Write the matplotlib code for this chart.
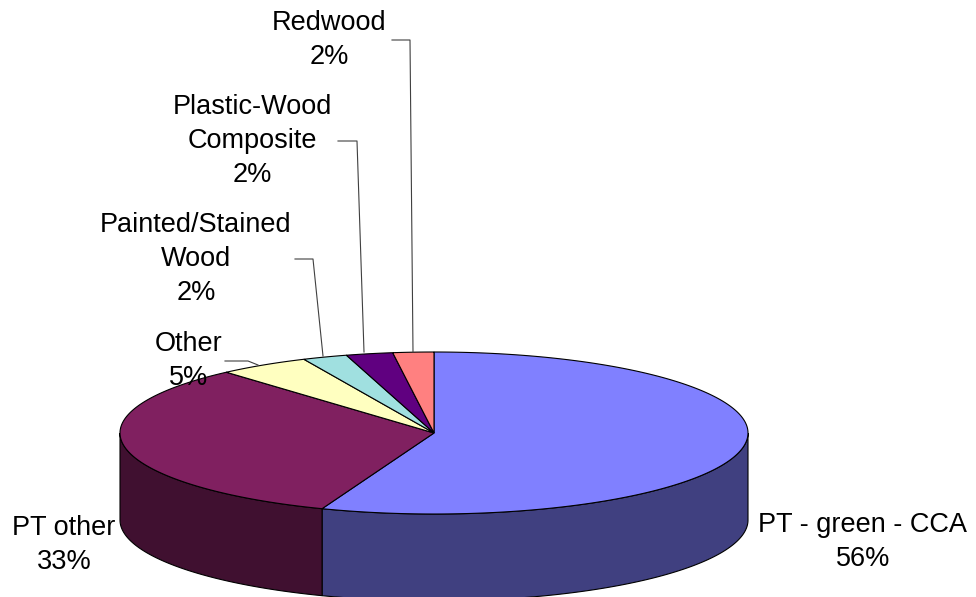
import numpy as np
import matplotlib.pyplot as plt
from matplotlib.patches import Polygon

# Decking material shares (%)
materials = ["PT - green - CCA", "PT other", "Other", "Painted/Stained\nWood",
             "Plastic-Wood\nComposite", "Redwood"]
shares = [55.8, 32.7, 4.7, 2.3, 2.4, 2.1]

top_colors = ["#8080FF", "#802060", "#FFFFC0", "#A0E0E0", "#600080", "#FF8080"]
side_colors = ["#404080", "#401030", "#808060", "#507070", "#300040", "#804040"]

# pie geometry in pixel space (y grows downward)
cx, cy = 434, 433
rx, ry = 314, 81
depth = 87

# label anchors and leader lines (pixels)
label_pos = [(863, 542), (64, 545), (189, 361), (196, 259), (252, 141), (329, 40)]
leaders = {
    2: [(225, 361), (248, 361), (258, 365)],
    3: [(295, 259), (313, 259), (323, 356)],
    4: [(338, 141), (357, 141), (364, 352)],
    5: [(392, 40), (410, 40), (413, 352)],
}


def rim(t):
    # t in degrees, clockwise from 12 o'clock
    r = np.radians(t)
    return cx + rx * np.sin(r), cy - ry * np.cos(r)


fig = plt.figure(figsize=(9.76, 5.97), dpi=100)
ax = fig.add_axes([0, 0, 1, 1])
ax.set_xlim(0, 976)
ax.set_ylim(597, 0)
ax.axis("off")

fracs = np.array(shares) / sum(shares)
bounds = np.concatenate([[0], np.cumsum(fracs) * 360])

# front wall of the cylinder (visible between 90 and 270 degrees)
for i in range(len(shares)):
    a0, a1 = max(bounds[i], 90), min(bounds[i + 1], 270)
    if a1 <= a0:
        continue
    t = np.linspace(a0, a1, 200)
    xs, ys = rim(t)
    pts = list(zip(xs, ys)) + list(zip(xs[::-1], ys[::-1] + depth))
    ax.add_patch(Polygon(pts, closed=True, facecolor=side_colors[i],
                         edgecolor="black", linewidth=0.8, zorder=1))

# top face wedges
for i in range(len(shares)):
    t = np.linspace(bounds[i], bounds[i + 1], 300)
    xs, ys = rim(t)
    pts = [(cx, cy)] + list(zip(xs, ys))
    ax.add_patch(Polygon(pts, closed=True, facecolor=top_colors[i],
                         edgecolor="black", linewidth=0.8, zorder=2))

for i, name in enumerate(materials):
    x, y = label_pos[i]
    ax.text(x, y, f"{name}\n{shares[i]:.0f}%", ha="center", va="center",
            fontsize=19.5, family="Liberation Sans", linespacing=1.42,
            multialignment="center", zorder=3)

for i, pts in leaders.items():
    xs, ys = zip(*pts)
    ax.plot(xs, ys, color="#404040", linewidth=0.8, zorder=3)

fig.savefig("out.png", dpi=100)
